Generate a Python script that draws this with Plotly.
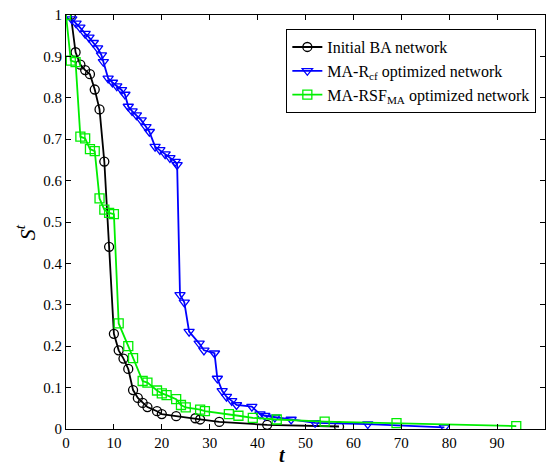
import plotly.graph_objects as go

# Initial BA network
black_t = [1, 2, 3, 4, 5, 6, 7, 8, 9, 10, 11, 12, 13, 14, 15, 16, 17, 19, 20, 23, 27, 28, 32, 42, 57]
black_s = [1.0, 0.91, 0.88, 0.867, 0.857, 0.82, 0.772, 0.646, 0.44, 0.23, 0.19, 0.17, 0.145, 0.094,
           0.075, 0.063, 0.053, 0.043, 0.036, 0.031, 0.026, 0.023, 0.017, 0.01, 0.006]

# MA-Rcf optimized network
blue_t = [1.2, 2.1, 2.9, 4.0, 4.8, 5.7, 6.6, 7.4, 7.8, 8.8, 9.7, 10.6, 11.6, 12.3, 13.0, 13.8, 14.7,
          15.7, 16.7, 17.4, 18.6, 19.6, 20.7, 21.7, 22.8, 23.2, 23.8, 24.7, 25.7, 27.8, 28.8, 31.0,
          31.6, 32.6, 33.5, 34.6, 35.6, 38.8, 40.5, 41.5, 43.6, 47.0, 52.0, 63.0, 79.0]
blue_s = [0.99, 0.98, 0.97, 0.955, 0.946, 0.933, 0.92, 0.903, 0.887, 0.847, 0.837, 0.828, 0.819,
          0.808, 0.779, 0.768, 0.758, 0.746, 0.73, 0.718, 0.682, 0.674, 0.664, 0.655, 0.646, 0.638,
          0.324, 0.306, 0.235, 0.207, 0.19, 0.183, 0.122, 0.092, 0.078, 0.068, 0.058, 0.054, 0.036,
          0.032, 0.028, 0.023, 0.015, 0.012, 0.004]

# MA-RSF_MA optimized network
green_t = [0, 1, 2, 3, 4, 5, 6, 7, 8, 9, 10, 11, 13, 14, 16, 17, 19, 20, 21, 23, 24, 25, 28, 29,
           34, 36, 39, 44, 54, 69, 94]
green_s = [1.0, 0.89, 0.886, 0.706, 0.702, 0.676, 0.671, 0.557, 0.53, 0.522, 0.519, 0.255, 0.2,
           0.171, 0.116, 0.112, 0.093, 0.086, 0.082, 0.072, 0.058, 0.052, 0.047, 0.043, 0.036,
           0.032, 0.027, 0.023, 0.018, 0.014, 0.007]

x_ticks = [0, 10, 20, 30, 40, 50, 60, 70, 80, 90, 100]
y_ticks = [0, 0.1, 0.2, 0.3, 0.4, 0.5, 0.6, 0.7, 0.8, 0.9, 1]
y_labels = ["0", "0.1", "0.2", "0.3", "0.4", "0.5", "0.6", "0.7", "0.8", "0.9", "1"]

FONT = "Liberation Serif, Times New Roman, serif"

fig = go.Figure()
fig.add_trace(go.Scatter(
    x=black_t, y=black_s, mode="lines+markers", name="Initial BA network",
    line=dict(color="black", width=1.8),
    marker=dict(symbol="circle-open", size=9, color="black", line=dict(width=1.3)),
))
fig.add_trace(go.Scatter(
    x=blue_t, y=blue_s, mode="lines+markers", name="MA-R<sub>cf</sub> optimized network",
    line=dict(color="#0000ff", width=1.8),
    marker=dict(symbol="triangle-down-open", size=9, color="#0000ff", line=dict(width=1.3)),
))
fig.add_trace(go.Scatter(
    x=green_t, y=green_s, mode="lines+markers", name="MA-RSF<sub>MA</sub> optimized network",
    line=dict(color="#00ee00", width=1.8),
    marker=dict(symbol="square-open", size=9, color="#00ee00", line=dict(width=1.3)),
))

axis_common = dict(
    showgrid=False, zeroline=False, showline=True, linecolor="black", linewidth=1,
    mirror="ticks", ticks="inside", ticklen=5, tickcolor="black", automargin=False,
    tickfont=dict(family=FONT, size=15, color="black"),
)

fig.update_layout(
    width=556, height=466,
    margin=dict(l=66, r=11, t=15, b=37),
    paper_bgcolor="white", plot_bgcolor="white",
    showlegend=True,
    legend=dict(
        x=0.46, y=0.966, xanchor="left", yanchor="top",
        bordercolor="black", borderwidth=1, bgcolor="white",
        font=dict(family=FONT, size=16, color="black"),
        tracegroupgap=0, itemwidth=30,
    ),
    xaxis=dict(range=[0, 100], tickvals=x_ticks, **axis_common),
    yaxis=dict(range=[0, 1], tickvals=y_ticks, ticktext=y_labels, **axis_common),
    annotations=[
        dict(text="<b><i>t</i></b>", xref="paper", yref="paper", x=0.453, y=0,
             xanchor="center", yanchor="top", yshift=-13, showarrow=False,
             font=dict(family=FONT, size=20, color="black")),
        dict(text="<i>S<sup>t</sup></i>", xref="paper", yref="paper", x=-0.085, y=0.476,
             xanchor="center", yanchor="middle", textangle=-90, showarrow=False,
             font=dict(family=FONT, size=22, color="black")),
    ],
)

fig.write_html("out.html")
